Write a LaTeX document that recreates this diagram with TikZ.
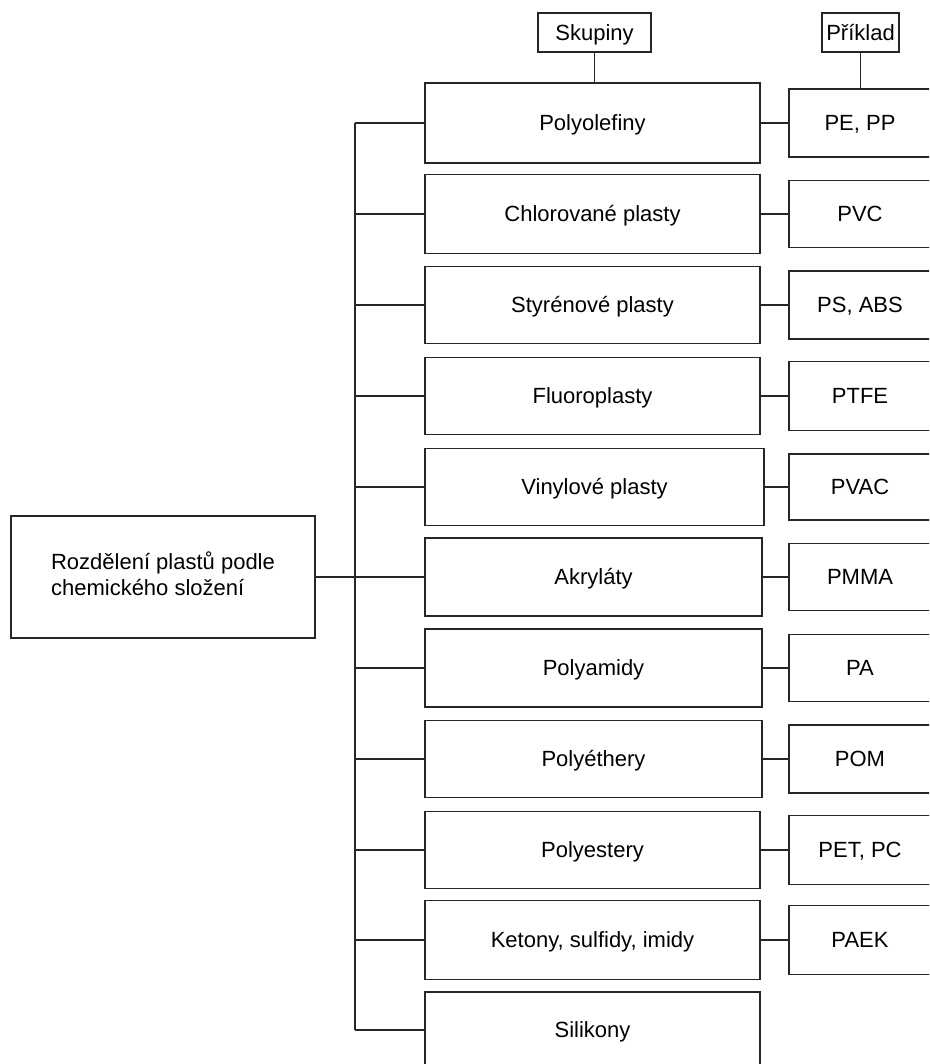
\documentclass[tikz,border=0pt]{standalone}
\usepackage{fontspec}
\setmainfont{Liberation Sans}
\begin{document}
\begin{tikzpicture}[x=1pt,y=-1pt,
  every node/.style={font=\fontsize{22}{26}\selectfont},
  bx/.style={draw=black!85, line width=1.5pt, rectangle, inner sep=0pt, outer sep=0pt,
     text height=15.75pt, text depth=0pt},
  ln/.style={draw=black!85, line width=1.5pt}]
\useasboundingbox (0,0) rectangle (929,1064);
\clip (0,0) rectangle (929,1064);
\fill[white] (0,0) rectangle (929,1064);
% headers
\node[bx, minimum width=113pt, minimum height=39pt] (hs) at (594.5,32.5) {Skupiny};
\node[bx, minimum width=77pt, minimum height=39pt] (hp) at (860.5,32.5) {Příklad};
% root
\node[draw=black!85, line width=1.5pt, rectangle, inner sep=0pt, outer sep=0pt,
  minimum width=304pt, minimum height=122pt, align=left] (root) at (163,577)
  {Rozdělení plastů podle\\chemického složení\\[-20pt]};
% groups
\node[bx, minimum width=335pt, minimum height=80pt] (g1) at (592.5,123) {Polyolefiny};
\node[bx, minimum width=335pt, minimum height=79pt] (g2) at (592.5,214) {Chlorované plasty};
\node[bx, minimum width=335pt, minimum height=77pt] (g3) at (592.5,305) {Styrénové plasty};
\node[bx, minimum width=335pt, minimum height=77pt] (g4) at (592.5,396) {Fluoroplasty};
\node[bx, minimum width=339pt, minimum height=77pt] (g5) at (594.5,487) {Vinylové plasty};
\node[bx, minimum width=337pt, minimum height=78pt] (g6) at (593.5,577) {Akryláty};
\node[bx, minimum width=337pt, minimum height=78pt] (g7) at (593.5,668) {Polyamidy};
\node[bx, minimum width=337pt, minimum height=77pt] (g8) at (593.5,759) {Polyéthery};
\node[bx, minimum width=335pt, minimum height=77pt] (g9) at (592.5,850) {Polyestery};
\node[bx, minimum width=335pt, minimum height=79pt] (g10) at (592.5,940) {Ketony, sulfidy, imidy};
\node[bx, minimum width=335pt, minimum height=76pt] (g11) at (592.5,1030) {Silikony};
% examples
\node[bx, minimum width=142pt, minimum height=68pt] (r1) at (860,123) {PE, PP};
\node[bx, minimum width=142pt, minimum height=67pt] (r2) at (860,214) {PVC};
\node[bx, minimum width=142pt, minimum height=68pt] (r3) at (860,305) {PS, ABS};
\node[bx, minimum width=142pt, minimum height=69pt] (r4) at (860,396) {PTFE};
\node[bx, minimum width=142pt, minimum height=66pt] (r5) at (860,487) {PVAC};
\node[bx, minimum width=142pt, minimum height=67pt] (r6) at (860,577) {PMMA};
\node[bx, minimum width=142pt, minimum height=67pt] (r7) at (860,668) {PA};
\node[bx, minimum width=142pt, minimum height=68pt] (r8) at (860,759) {POM};
\node[bx, minimum width=142pt, minimum height=69pt] (r9) at (860,850) {PET, PC};
\node[bx, minimum width=142pt, minimum height=69pt] (r10) at (860,940) {PAEK};
% spine
\coordinate (spx) at (355,0);
\draw[ln] (g1.west -| spx) -- (g11.west -| spx);
\foreach \i in {1,...,11} {\draw[ln] (g\i.west) -- (g\i.west -| spx);}
\draw[ln] (root.east) -- (root.east -| spx);
\foreach \i in {1,...,10} {\draw[ln] (g\i.east) -- (g\i.east -| r\i.west);}
\draw[ln] (hs.south) -- (hs.south |- g1.north);
\draw[ln] (hp.south) -- (hp.south |- r1.north);
\end{tikzpicture}
\end{document}
